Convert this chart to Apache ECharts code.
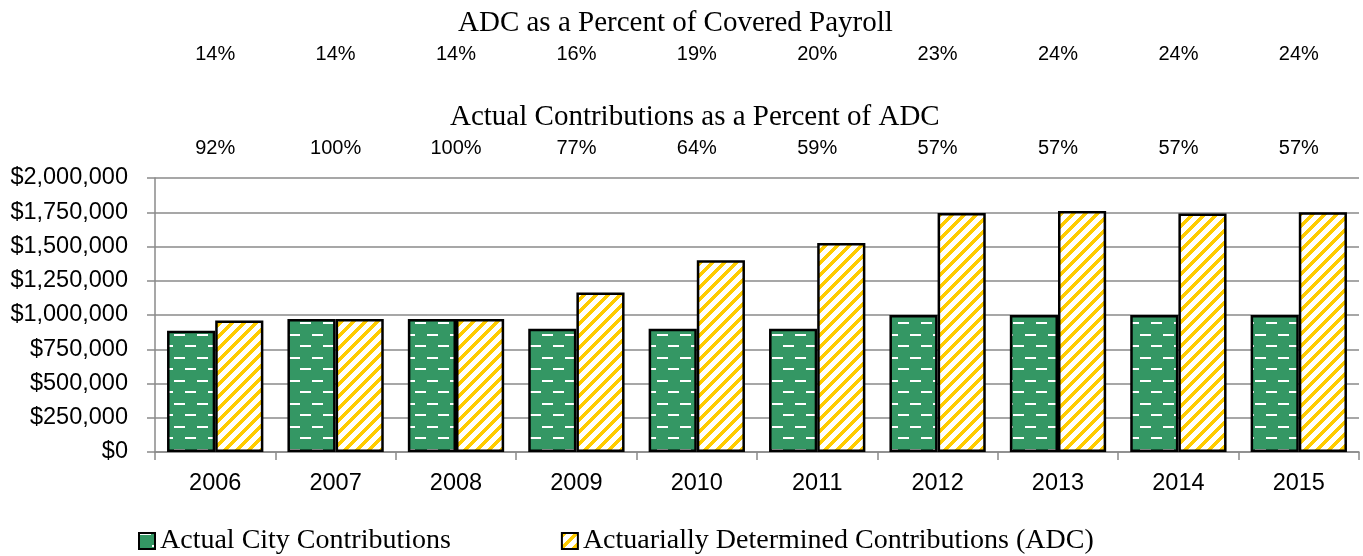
<!DOCTYPE html>
<html>
<head>
<meta charset="utf-8">
<script src="https://cdn.jsdelivr.net/npm/echarts@6/dist/echarts.min.js"></script>
<style>
html,body{margin:0;padding:0;background:#fff;}
#chart{width:1363px;height:556px;}
</style>
</head>
<body>
<div id="chart"></div>
<script>
const categories = ['2006','2007','2008','2009','2010','2011','2012','2013','2014','2015'];
const actualCity = [885000, 970000, 970000, 900000, 900000, 900000, 1000000, 1000000, 1000000, 1000000];
const adcValues = [960000, 970000, 970000, 1165000, 1400000, 1525000, 1745000, 1760000, 1740000, 1750000];
const adcPayrollPct = ['14%','14%','14%','16%','19%','20%','23%','24%','24%','24%'];
const actualPctOfAdc = ['92%','100%','100%','77%','64%','59%','57%','57%','57%','57%'];
const seriesNames = ['Actual City Contributions', 'Actuarially Determined Contributions (ADC)'];
const titleTexts = ['ADC as a Percent of Covered Payroll', 'Actual Contributions as a Percent of ADC'];

function makeDashPattern() {
  const c = document.createElement('canvas');
  c.width = 23; c.height = 23;
  const g = c.getContext('2d');
  g.fillStyle = '#349764';
  g.fillRect(0, 0, 23, 23);
  g.fillStyle = '#ffffff';
  g.fillRect(1, 0, 11, 2);
  g.fillRect(13, 12, 10, 2);
  g.fillRect(0, 12, 1, 2);
  return c;
}
function makeStripePattern() {
  const P = 12;
  const c = document.createElement('canvas');
  c.width = P; c.height = P;
  const g = c.getContext('2d');
  for (let y = 0; y < P; y++) {
    for (let x = 0; x < P; x++) {
      g.fillStyle = ((x + y) % P) < 5 ? '#FFCC00' : '#ffffff';
      g.fillRect(x, y, 1, 1);
    }
  }
  return c;
}

const chart = echarts.init(document.getElementById('chart'), null, {renderer: 'canvas'});
const greenFill = {image: makeDashPattern(), repeat: 'repeat'};
const yellowFill = {image: makeStripePattern(), repeat: 'repeat'};

const axisGray = '#8a8a8a';
const sansFont = 'Liberation Sans';
const serifFont = 'Liberation Serif';

const option = {
  animation: false,
  backgroundColor: '#ffffff',
  title: [
    {text: titleTexts[0], left: 453, top: 4,
     textStyle: {fontFamily: serifFont, fontSize: 29, fontWeight: 'normal', color: '#000'}},
    {text: titleTexts[1], left: 445, top: 98,
     textStyle: {fontFamily: serifFont, fontSize: 29, fontWeight: 'normal', color: '#000'}}
  ],
  legend: {
    left: 133, top: 522,
    itemWidth: 16, itemHeight: 16, itemGap: 110,
    icon: 'rect',
    textStyle: {fontFamily: serifFont, fontSize: 28, color: '#000'},
    data: seriesNames
  },
  grid: {left: 155, right: 4, top: 178, bottom: 104, containLabel: false},
  xAxis: [
    {
      type: 'category', data: categories, position: 'bottom',
      axisLine: {lineStyle: {color: axisGray, width: 1.5}},
      axisTick: {show: true, length: 8, alignWithLabel: false, lineStyle: {color: axisGray, width: 1.5}},
      axisLabel: {fontFamily: sansFont, fontSize: 23.5, color: '#000', margin: 20}
    },
    {
      type: 'category', data: actualPctOfAdc, position: 'top', gridIndex: 0,
      axisLine: {show: false}, axisTick: {show: false}, splitLine: {show: false},
      axisLabel: {fontFamily: sansFont, fontSize: 20, color: '#000', margin: 20}
    },
    {
      type: 'category', data: adcPayrollPct, position: 'top', gridIndex: 0, offset: 94,
      axisLine: {show: false}, axisTick: {show: false}, splitLine: {show: false},
      axisLabel: {fontFamily: sansFont, fontSize: 20, color: '#000', margin: 20}
    }
  ],
  yAxis: {
    type: 'value', min: 0, max: 2000000, interval: 250000,
    axisLine: {show: true, lineStyle: {color: axisGray, width: 1.5}},
    axisTick: {show: true, length: 8, lineStyle: {color: axisGray, width: 1.5}},
    splitLine: {lineStyle: {color: axisGray, width: 1.5}},
    axisLabel: {
      fontFamily: sansFont, fontSize: 23.5, color: '#000', margin: 27,
      formatter: v => '$' + v.toLocaleString('en-US')
    }
  },
  series: [
    {
      name: seriesNames[0], type: 'bar', data: actualCity,
      barGap: '0%', barCategoryGap: '20%',
      itemStyle: {color: greenFill, borderColor: '#000', borderWidth: 2.5}
    },
    {
      name: seriesNames[1], type: 'bar', data: adcValues,
      barGap: '0%', barCategoryGap: '20%',
      itemStyle: {color: yellowFill, borderColor: '#000', borderWidth: 2.5}
    }
  ]
};
chart.setOption(option);
</script>
</body>
</html>
